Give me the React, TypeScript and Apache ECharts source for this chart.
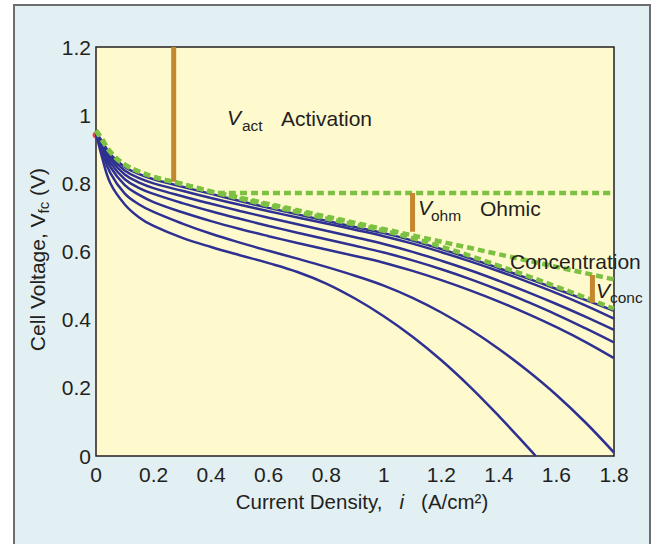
import React, { useEffect, useRef } from 'react';
import * as echarts from 'echarts';

// ---- data ----
const densityGrid = [0, 0.02, 0.05, 0.1, 0.15, 0.2, 0.3, 0.4, 0.5, 0.6, 0.7, 0.8, 0.9, 1.0, 1.1, 1.2, 1.3, 1.4, 1.5, 1.6, 1.7, 1.8];
const curve1 = [0.948, 0.925, 0.885, 0.848, 0.827, 0.812, 0.79, 0.769, 0.748, 0.728, 0.709, 0.69, 0.672, 0.654, 0.632, 0.607, 0.58, 0.551, 0.521, 0.49, 0.458, 0.426];
const curve2 = [0.948, 0.92, 0.878, 0.838, 0.815, 0.8, 0.778, 0.757, 0.737, 0.718, 0.7, 0.682, 0.664, 0.645, 0.623, 0.598, 0.571, 0.542, 0.511, 0.478, 0.442, 0.403];
const curve3 = [0.948, 0.915, 0.87, 0.826, 0.802, 0.786, 0.762, 0.74, 0.719, 0.699, 0.68, 0.661, 0.642, 0.622, 0.599, 0.573, 0.545, 0.514, 0.481, 0.446, 0.409, 0.37];
const curve4 = [0.948, 0.91, 0.86, 0.812, 0.786, 0.769, 0.742, 0.718, 0.696, 0.675, 0.655, 0.636, 0.617, 0.597, 0.574, 0.548, 0.519, 0.487, 0.452, 0.415, 0.375, 0.333];
const curve5 = [0.948, 0.905, 0.848, 0.795, 0.766, 0.745, 0.715, 0.689, 0.666, 0.645, 0.625, 0.606, 0.587, 0.567, 0.543, 0.516, 0.486, 0.453, 0.417, 0.378, 0.335, 0.287];
const curve6 = [0.948, 0.895, 0.83, 0.77, 0.738, 0.716, 0.682, 0.652, 0.626, 0.602, 0.579, 0.555, 0.529, 0.5, 0.464, 0.421, 0.371, 0.314, 0.25, 0.179, 0.099, 0.01];
const curve7Density = [0, 0.02, 0.05, 0.1, 0.15, 0.2, 0.3, 0.4, 0.5, 0.6, 0.7, 0.8, 0.9, 1.0, 1.1, 1.2, 1.3, 1.4, 1.5, 1.528];
const curve7 = [0.948, 0.88, 0.8, 0.738, 0.7, 0.675, 0.64, 0.613, 0.589, 0.566, 0.54, 0.506, 0.462, 0.41, 0.35, 0.281, 0.203, 0.117, 0.026, 0];

const combinedLoss = [0.955, 0.932, 0.892, 0.855, 0.834, 0.819, 0.797, 0.776, 0.755, 0.735, 0.716, 0.697, 0.679, 0.661, 0.639, 0.614, 0.587, 0.558, 0.528, 0.497, 0.465, 0.432];
const activationDensity = [0, 0.05, 0.1, 0.2, 0.27, 0.35, 0.43, 1.8];
const activationOnly = [0.955, 0.892, 0.855, 0.819, 0.805, 0.787, 0.772, 0.772];
const ohmicDensity = [0.43, 1.8];
const ohmicLine = [0.771, 0.518];

const actBarDensity = [0.27, 0.27];
const actBar = [1.2, 0.805];
const ohmBarDensity = [1.1, 1.1];
const ohmBar = [0.772, 0.658];
const concBarDensity = [1.725, 1.725];
const concBar = [0.531, 0.45];

const openCircuit = [[0, 0.942]];

const FONT = "'Liberation Sans', Arial, Helvetica, sans-serif";
const INK = '#231f20';
const BLUE = '#2e3192';
const GREEN = '#7cc142';
const ORANGE = '#c4862f';

const pairs = (xs: number[], ys: number[]) => xs.map((x, i) => [x, ys[i]]);

function App() {
  const ref = useRef<HTMLDivElement>(null);
  useEffect(() => {
    if (!ref.current) return;
    const chart = echarts.init(ref.current, undefined, { renderer: 'svg' });
    const blueLine = (xs: number[], ys: number[]) => ({
      type: 'line', data: pairs(xs, ys), symbol: 'none', smooth: 0.4,
      lineStyle: { color: BLUE, width: 2.5 }, z: 2, silent: true,
    });
    const greenLine = (xs: number[], ys: number[]) => ({
      type: 'line', data: pairs(xs, ys), symbol: 'none', smooth: 0.4,
      lineStyle: { color: GREEN, width: 4.5, type: [7, 4] }, z: 3, silent: true,
    });
    const bar = (xs: number[], ys: number[]) => ({
      type: 'line', data: pairs(xs, ys), symbol: 'none',
      lineStyle: { color: ORANGE, width: 5 }, z: 4, silent: true,
    });
    const txt = (text: string, x: number, y: number, size: number, italic = false) => ({
      type: 'text', x, y, z: 100,
      style: {
        text, fill: INK, fontSize: size, fontFamily: FONT, fontStyle: italic ? 'italic' : 'normal',
        align: 'left', verticalAlign: 'middle', textAlign: 'left', textVerticalAlign: 'middle',
      },
    });
    chart.setOption({
      animation: false,
      grid: {
        left: 96, top: 47, right: 38, bottom: 88, show: true,
        backgroundColor: '#fffacd', borderColor: INK, borderWidth: 1.5,
      },
      xAxis: {
        type: 'value', min: 0, max: 1.8, interval: 0.2,
        axisLine: { show: false }, axisTick: { show: false }, splitLine: { show: false },
        axisLabel: { color: INK, fontSize: 21, fontFamily: FONT, margin: 8 },
        name: 'Current Density,   {i|i}   (A/cm²)', nameLocation: 'middle', nameGap: 35,
        nameTextStyle: {
          color: INK, fontSize: 20.5, fontFamily: FONT, padding: [0, 0, 0, 14],
          rich: { i: { fontStyle: 'italic', fontSize: 20.5, fontFamily: FONT, color: INK } },
        },
      },
      yAxis: {
        type: 'value', min: 0, max: 1.2, interval: 0.2,
        axisLine: { show: false }, axisTick: { show: false }, splitLine: { show: false },
        axisLabel: { color: INK, fontSize: 21, fontFamily: FONT, margin: 5 },
        name: 'Cell Voltage, {v|V}{s|fc} (V)', nameLocation: 'middle', nameGap: 44,
        nameTextStyle: {
          color: INK, fontSize: 21, fontFamily: FONT, padding: [0, 16, 0, 0],
          rich: {
            v: { fontSize: 21, fontFamily: FONT, color: INK },
            s: { fontSize: 15, fontFamily: FONT, color: INK, padding: [12, 0, 0, 0] },
          },
        },
      },
      series: [
        blueLine(densityGrid, curve1),
        blueLine(densityGrid, curve2),
        blueLine(densityGrid, curve3),
        blueLine(densityGrid, curve4),
        blueLine(densityGrid, curve5),
        blueLine(densityGrid, curve6),
        blueLine(curve7Density, curve7),
        { type: 'scatter', data: openCircuit, symbolSize: 7, itemStyle: { color: '#e31e24' }, clip: false, z: 1, silent: true },
        greenLine(densityGrid, combinedLoss),
        greenLine(activationDensity, activationOnly),
        greenLine(ohmicDensity, ohmicLine),
        bar(actBarDensity, actBar),
        bar(ohmBarDensity, ohmBar),
        bar(concBarDensity, concBar),
      ],
      graphic: {
        elements: [
          txt('V', 227, 117.6, 21, true),
          txt('act', 242, 125.3, 15.5),
          txt('Activation', 281, 118.6, 21),
          txt('V', 418, 207.6, 21, true),
          txt('ohm', 431, 215.1, 15.5),
          txt('Ohmic', 480, 208.6, 21),
          txt('Concentration', 510, 261.6, 21),
          txt('V', 596, 290.6, 21, true),
          txt('conc', 610, 297.9, 15.5),
        ],
      },
    });
    return () => chart.dispose();
  }, []);
  return (
    <div style={{ position: 'absolute', left: 0, top: 0, width: 652, height: 544, background: '#ffffff', overflow: 'hidden' }}>
      <div style={{ position: 'absolute', left: 13, top: 4, width: 638, height: 560, boxSizing: 'border-box', border: '2px solid #6d6e71', background: '#e2f0f3' }} />
      <div ref={ref} style={{ position: 'absolute', left: 0, top: 0, width: 652, height: 544 }} />
    </div>
  );
}

export default App;
